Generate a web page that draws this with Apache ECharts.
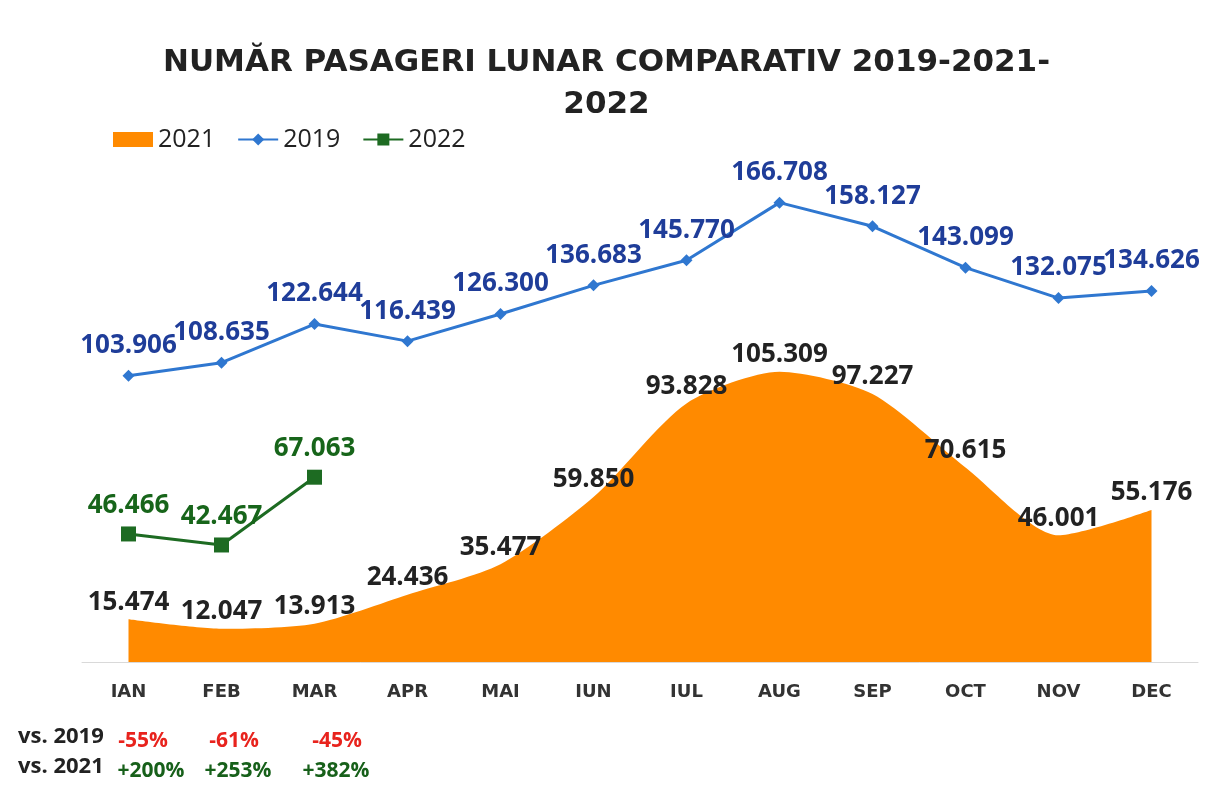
<!DOCTYPE html>
<html lang="ro">
<head>
<meta charset="UTF-8" />
<title>Număr pasageri lunar comparativ</title>
<script src="https://cdn.jsdelivr.net/npm/echarts@6/dist/echarts.min.js"></script>
<style>
  html, body { margin: 0; padding: 0; background: #fff; }
  #main { width: 1213px; height: 792px; }
</style>
</head>
<body>
<div id="main"></div>
<script>
// luni
var months = ['IAN', 'FEB', 'MAR', 'APR', 'MAI', 'IUN', 'IUL', 'AUG', 'SEP', 'OCT', 'NOV', 'DEC'];
// pasageri pe luna
var pax2021 = [15474, 12047, 13913, 24436, 35477, 59850, 93828, 105309, 97227, 70615, 46001, 55176];
var pax2019 = [103906, 108635, 122644, 116439, 126300, 136683, 145770, 166708, 158127, 143099, 132075, 134626];
var pax2022 = [46466, 42467, 67063];
// comparatii Q1 2022
var vs2019 = ['-55%', '-61%', '-45%'];
var vs2021 = ['+200%', '+253%', '+382%'];

var font = '"Open Sans", sans-serif';
var wide = '"DejaVu Sans", sans-serif';

// 103906 -> "103.906"
function fmt(p) {
  var v = p.value;
  var r = String(v % 1000);
  while (r.length < 3) r = '0' + r;
  return Math.floor(v / 1000) + '.' + r;
}

var chart = echarts.init(document.getElementById('main'));

var graphics = [
  { type: 'text', left: 18, top: 726, style: { text: 'vs. 2019', font: 'bold 22px ' + font, fill: '#222' } },
  { type: 'text', left: 18, top: 756, style: { text: 'vs. 2021', font: 'bold 22px ' + font, fill: '#222' } }
];
var xs1 = [143, 234, 337];
var xs2 = [151, 238, 336];
vs2019.forEach(function (t, i) {
  graphics.push({ type: 'text', x: xs1[i], y: 741, style: { text: t, font: 'bold 21px ' + font, fill: '#e8231d', align: 'center', verticalAlign: 'middle' } });
});
vs2021.forEach(function (t, i) {
  graphics.push({ type: 'text', x: xs2[i], y: 771, style: { text: t, font: 'bold 21px ' + font, fill: '#17601a', align: 'center', verticalAlign: 'middle' } });
});

var lbl = { fontFamily: font, fontSize: 26, fontWeight: 'bold' };

chart.setOption({
  animation: false,
  title: {
    text: 'NUMĂR PASAGERI LUNAR COMPARATIV 2019-2021-\n2022',
    left: 'center',
    top: 37,
    textStyle: { fontFamily: wide, fontSize: 31, fontWeight: 'bold', color: '#222', lineHeight: 42 }
  },
  legend: {
    left: 108,
    top: 122,
    itemWidth: 40,
    itemHeight: 15,
    itemGap: 22,
    data: [{ name: '2021', icon: 'rect' }, '2019', '2022'],
    textStyle: { fontFamily: font, fontSize: 25, color: '#222' }
  },
  grid: { left: 82, right: 15, top: 166, bottom: 130 },
  xAxis: {
    type: 'category',
    data: months,
    boundaryGap: true,
    axisLine: { lineStyle: { color: '#d9d9d9', width: 1 } },
    axisTick: { show: false },
    axisLabel: { fontFamily: wide, fontSize: 18, fontWeight: 'bold', color: '#333', margin: 21 }
  },
  yAxis: {
    type: 'value',
    min: 0,
    max: 180000,
    show: false,
    splitLine: { show: false }
  },
  graphic: graphics,
  series: [
    {
      name: '2021',
      type: 'line',
      data: pax2021,
      smooth: 0.25,
      symbol: 'circle',
      symbolSize: 0,
      showSymbol: true,
      lineStyle: { width: 0, color: '#ff8a00' },
      itemStyle: { color: '#ff8a00' },
      areaStyle: { color: '#ff8a00', opacity: 1 },
      label: Object.assign({ show: true, position: 'top', distance: 4, formatter: fmt, color: '#222' }, lbl)
    },
    {
      name: '2019',
      type: 'line',
      data: pax2019,
      symbol: 'diamond',
      symbolSize: 12,
      lineStyle: { width: 3, color: '#2f77d0' },
      itemStyle: { color: '#2f77d0' },
      label: Object.assign({ show: true, position: 'top', distance: 11, formatter: fmt, color: '#1f3d99' }, lbl)
    },
    {
      name: '2022',
      type: 'line',
      data: pax2022,
      symbol: 'rect',
      symbolSize: 15,
      lineStyle: { width: 3, color: '#1d6b22' },
      itemStyle: { color: '#1d6b22' },
      label: Object.assign({ show: true, position: 'top', distance: 8, formatter: fmt, color: '#17651a' }, lbl)
    }
  ]
});
</script>
</body>
</html>
